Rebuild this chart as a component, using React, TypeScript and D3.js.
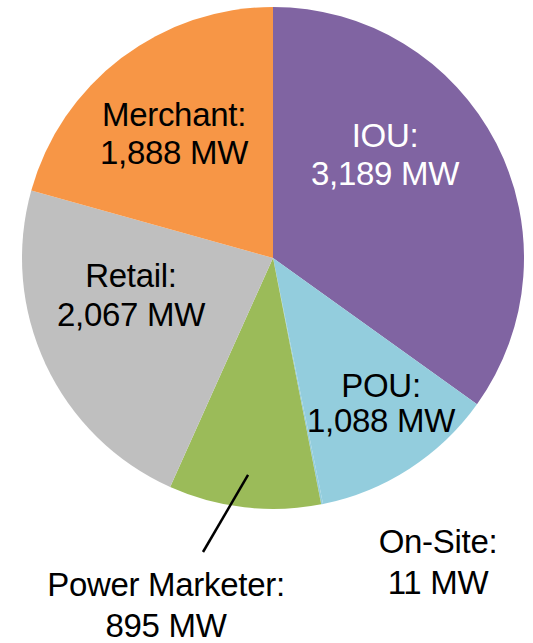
import React from "react";
import * as d3 from "d3";

const categories = ["IOU", "POU", "On-Site", "Power Marketer", "Retail", "Merchant"];
const values = [3189, 1088, 11, 895, 2067, 1888];
const colors = ["#8064A2", "#93CDDD", "#93CDDD", "#9BBB59", "#BFBFBF", "#F79646"];
const textColors = ["#FFFFFF", "#000000", "#000000", "#000000", "#000000", "#000000"];

// layout: label centre x and first-line baseline y, line gap
const labelLayout: [number, number, number][] = [
  [385, 147, 38],
  [381, 397, 35],
  [438, 553, 41],
  [166, 596, 41],
  [131, 287, 39],
  [174, 126, 38],
];

const W = 533;
const H = 643;
const cx = 273;
const cy = 258;
const R = 251;

export default function App() {
  const pie = d3.pie<number>().sort(null).value((d) => d)(values);
  const arc = d3.arc<d3.PieArcDatum<number>>().innerRadius(0).outerRadius(R);
  const fmt = d3.format(",");

  // leader for Power Marketer
  const pm = pie[3];
  const mid = (pm.startAngle + pm.endAngle) / 2;
  const lx1 = cx + Math.sin(mid) * R * 0.87;
  const ly1 = cy - Math.cos(mid) * R * 0.87;

  return (
    <svg
      width={W}
      height={H}
      style={{ position: "absolute", left: 0, top: 0, background: "#fff" }}
      fontFamily="'Liberation Sans', Arial, sans-serif"
    >
      <g transform={`translate(${cx},${cy})`}>
        {pie.map((p, i) => (
          <path key={categories[i]} d={arc(p) || ""} fill={colors[i]} />
        ))}
      </g>
      <line x1={lx1} y1={ly1} x2={203} y2={552} stroke="#000" strokeWidth={2.5} />
      {categories.map((c, i) => {
        const [x, y, gap] = labelLayout[i];
        return (
          <text
            key={c}
            x={x}
            y={y}
            textAnchor="middle"
            fontSize={33}
            fill={textColors[i]}
            letterSpacing={-0.3}
          >
            <tspan x={x} y={y}>{c}:</tspan>
            <tspan x={x} y={y + gap}>{fmt(values[i])} MW</tspan>
          </text>
        );
      })}
    </svg>
  );
}
